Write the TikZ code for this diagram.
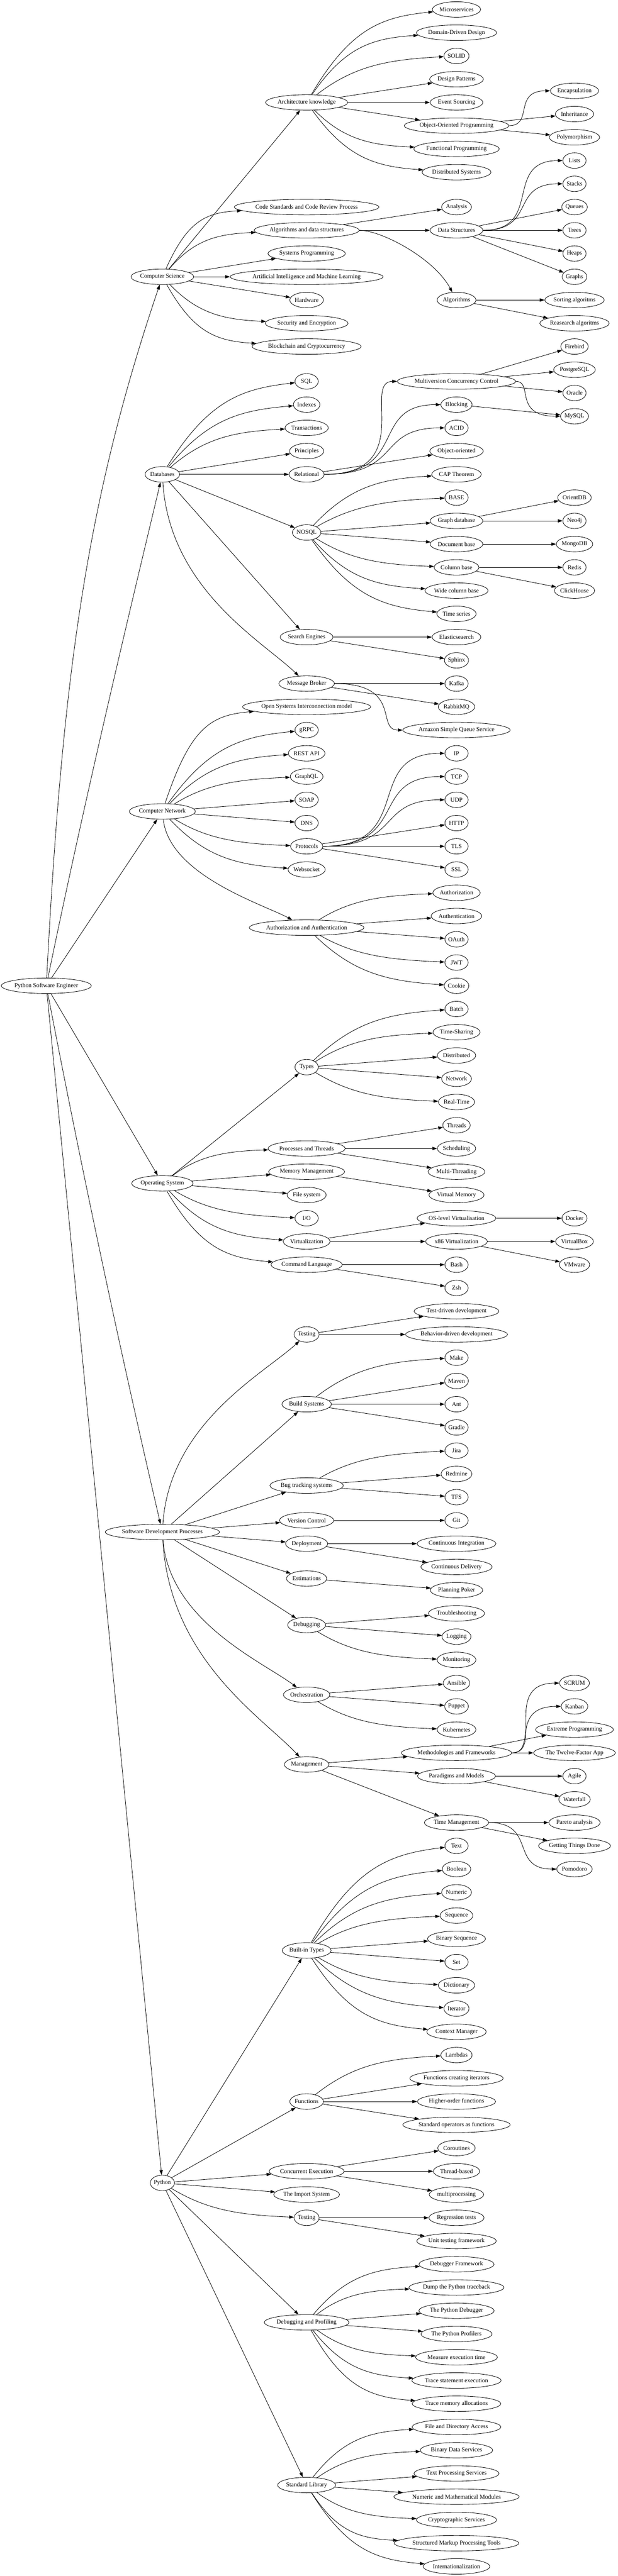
\documentclass[tikz,border=0pt]{standalone}
\usepackage{fontspec}
\setmainfont{Liberation Serif}
\usetikzlibrary{shapes.geometric,arrows.meta}
\newlength\gvtw
\newdimen\gvXa \newdimen\gvYa \newdimen\gvXb \newdimen\gvYb \newdimen\gvXc \newdimen\gvYc
\newcommand\gvfont{\fontsize{14pt}{16.8pt}\selectfont}
\tikzset{
  gvnode/.style={ellipse, draw, line width=1pt, minimum height=36pt, inner xsep=0pt, inner ysep=1pt, font=\gvfont},
  gvedge/.style={line width=1pt, -{Triangle[length=11pt,width=7.5pt]}},
}
% node: name, x, row, text
\newcommand\gvn[4]{%
  \settowidth\gvtw{\gvfont #4}%
  \pgfmathsetlengthmacro\gvmw{max(54pt,1.283*\gvtw+26pt)}%
  \node[gvnode,minimum width=\gvmw] (#1) at (#2,{22+54*#3}) {#4};}
% edge: type, parent, child
\newcommand\gve[3]{%
  \pgfextractx{\gvXa}{\pgfpointanchor{#2}{center}}%
  \pgfextracty{\gvYa}{\pgfpointanchor{#2}{center}}%
  \pgfextractx{\gvXb}{\pgfpointanchor{#3}{west}}%
  \pgfextracty{\gvYb}{\pgfpointanchor{#3}{west}}%
  \pgfextractx{\gvXc}{\pgfpointanchor{#3}{center}}%
  \pgfextracty{\gvYc}{\pgfpointanchor{#3}{center}}%
  \csname gvE#1\endcsname{#2}{#3}}
\newcommand\gvEs[2]{\draw[gvedge] (#1) -- (#2);}
\newcommand\gvEc[2]{%
  \pgfmathsetlengthmacro\gvA{\gvXa+0.35*(\gvXb-\gvXa)}%
  \pgfmathsetlengthmacro\gvB{\gvYa+0.8*(\gvYb-\gvYa)}%
  \pgfmathsetlengthmacro\gvC{\gvXb-0.4*(\gvXb-\gvXa)}%
  \pgfmathsetlengthmacro\gvD{\gvYb-0.08*(\gvYb-\gvYa)}%
  \draw[gvedge] (#1) .. controls (\gvA,\gvB) and (\gvC,\gvD) .. (#2);}
\newcommand\gvEh[2]{%
  \pgfmathsetlengthmacro\gvA{0.5*(\gvXa+\gvXc)+18pt+0.3*abs(\gvYc-\gvYa)}%
  \pgfmathsetlengthmacro\gvC{0.5*(\gvXa+\gvXc)+18pt-0.3*abs(\gvYc-\gvYa)}%
  \draw[gvedge] (#1) .. controls (\gvA,\the\gvYa) and (\gvC,\the\gvYc) .. (#2);}
\newcommand\gvEr[2]{%
  \pgfmathsetlengthmacro\gvA{\gvXa+0.5*(\gvXc-\gvXa)}%
  \pgfmathsetlengthmacro\gvC{\gvXc-0.15*(\gvXc-\gvXa)}%
  \pgfmathsetlengthmacro\gvD{\gvYc-0.6*(\gvYc-\gvYa)}%
  \draw[gvedge] (#1) .. controls (\gvA,\the\gvYa) and (\gvC,\gvD) .. (#2);}
\newcommand\gvEd[2]{%
  \pgfmathsetlengthmacro\gvA{\gvXa+0.05*(\gvXc-\gvXa)}%
  \pgfmathsetlengthmacro\gvB{\gvYa+0.55*(\gvYc-\gvYa)}%
  \pgfmathsetlengthmacro\gvC{\gvXc-0.3*(\gvXc-\gvXa)}%
  \pgfmathsetlengthmacro\gvD{\gvYc-0.2*(\gvYc-\gvYa)}%
  \draw[gvedge] (#1) .. controls (\gvA,\gvB) and (\gvC,\gvD) .. (#2);}
\begin{document}
\begin{tikzpicture}[x=1pt,y=-1pt]
\path[use as bounding box, fill=white] (0,0) rectangle (1434.75,5984.25);
% rank 0
\gvn{root}{107.5}{42}{Python Software Engineer}
% rank 1
\gvn{cs}{377}{11.5}{Computer Science}
\gvn{db}{377}{20}{Databases}
\gvn{cn}{377}{34.5}{Computer Network}
\gvn{os}{377}{50.5}{Operating System}
\gvn{sdp}{377}{65.5}{Software Development Processes}
\gvn{py}{377}{93.5}{Python}
% rank 2
\gvn{arch}{712}{4}{Architecture knowledge}
\gvn{cstd}{712}{8.5}{Code Standards and Code Review Process}
\gvn{ads}{712}{9.5}{Algorithms and data structures}
\gvn{sysp}{712}{10.5}{Systems Programming}
\gvn{aiml}{712}{11.5}{Artificial Intelligence and Machine Learning}
\gvn{hw}{712}{12.5}{Hardware}
\gvn{sec}{712}{13.5}{Security and Encryption}
\gvn{bc}{712}{14.5}{Blockchain and Cryptocurrency}
\gvn{sql}{712}{16}{SQL}
\gvn{idx}{712}{17}{Indexes}
\gvn{trx}{712}{18}{Transactions}
\gvn{prin}{712}{19}{Principles}
\gvn{rel}{712}{20}{Relational}
\gvn{nosql}{712}{22.5}{NOSQL}
\gvn{se}{712}{27}{Search Engines}
\gvn{mb}{712}{29}{Message Broker}
\gvn{osi}{712}{30}{Open Systems Interconnection model}
\gvn{grpc}{712}{31}{gRPC}
\gvn{rest}{712}{32}{REST API}
\gvn{gql}{712}{33}{GraphQL}
\gvn{soap}{712}{34}{SOAP}
\gvn{dns}{712}{35}{DNS}
\gvn{proto}{712}{36}{Protocols}
\gvn{ws}{712}{37}{Websocket}
\gvn{aa}{712}{39.5}{Authorization and Authentication}
\gvn{types}{712}{45.5}{Types}
\gvn{pthr}{712}{49}{Processes and Threads}
\gvn{mm}{712}{50}{Memory Management}
\gvn{fs}{712}{51}{File system}
\gvn{io}{712}{52}{I/O}
\gvn{virt}{712}{53}{Virtualization}
\gvn{cl}{712}{54}{Command Language}
\gvn{test}{712}{57}{Testing}
\gvn{build}{712}{60}{Build Systems}
\gvn{bug}{712}{63.5}{Bug tracking systems}
\gvn{vc}{712}{65}{Version Control}
\gvn{dep}{712}{66}{Deployment}
\gvn{est}{712}{67.5}{Estimations}
\gvn{dbg}{712}{69.5}{Debugging}
\gvn{orch}{712}{72.5}{Orchestration}
\gvn{mgmt}{712}{75.5}{Management}
\gvn{bit}{712}{83.5}{Built-in Types}
\gvn{func}{712}{90}{Functions}
\gvn{ce}{712}{93}{Concurrent Execution}
\gvn{imp}{712}{94}{The Import System}
\gvn{ptest}{712}{95}{Testing}
\gvn{dp}{712}{99.5}{Debugging and Profiling}
\gvn{stdlib}{712}{106.5}{Standard Library}
% rank 3
\gvn{micro}{1060}{0}{Microservices}
\gvn{ddd}{1060}{1}{Domain-Driven Design}
\gvn{solid}{1060}{2}{SOLID}
\gvn{dpat}{1060}{3}{Design Patterns}
\gvn{evs}{1060}{4}{Event Sourcing}
\gvn{oop}{1060}{5}{Object-Oriented Programming}
\gvn{fp}{1060}{6}{Functional Programming}
\gvn{dsys}{1060}{7}{Distributed Systems}
\gvn{ana}{1060}{8.5}{Analysis}
\gvn{dstr}{1060}{9.5}{Data Structures}
\gvn{alg}{1060}{12.5}{Algorithms}
\gvn{mvcc}{1060}{16}{Multiversion Concurrency Control}
\gvn{block}{1060}{17}{Blocking}
\gvn{acid}{1060}{18}{ACID}
\gvn{oodb}{1060}{19}{Object-oriented}
\gvn{cap}{1060}{20}{CAP Theorem}
\gvn{base}{1060}{21}{BASE}
\gvn{gdb}{1060}{22}{Graph database}
\gvn{docb}{1060}{23}{Document base}
\gvn{colb}{1060}{24}{Column base}
\gvn{wcol}{1060}{25}{Wide column base}
\gvn{tser}{1060}{26}{Time series}
\gvn{elastic}{1060}{27}{Elasticseaerch}
\gvn{sphinx}{1060}{28}{Sphinx}
\gvn{kafka}{1060}{29}{Kafka}
\gvn{rabbit}{1060}{30}{RabbitMQ}
\gvn{sqs}{1060}{31}{Amazon Simple Queue Service}
\gvn{ip}{1060}{32}{IP}
\gvn{tcp}{1060}{33}{TCP}
\gvn{udp}{1060}{34}{UDP}
\gvn{http}{1060}{35}{HTTP}
\gvn{tls}{1060}{36}{TLS}
\gvn{ssl}{1060}{37}{SSL}
\gvn{authz}{1060}{38}{Authorization}
\gvn{authn}{1060}{39}{Authentication}
\gvn{oauth}{1060}{40}{OAuth}
\gvn{jwt}{1060}{41}{JWT}
\gvn{cookie}{1060}{42}{Cookie}
\gvn{batch}{1060}{43}{Batch}
\gvn{tsh}{1060}{44}{Time-Sharing}
\gvn{distr}{1060}{45}{Distributed}
\gvn{netw}{1060}{46}{Network}
\gvn{rt}{1060}{47}{Real-Time}
\gvn{thr}{1060}{48}{Threads}
\gvn{sched}{1060}{49}{Scheduling}
\gvn{mthr}{1060}{50}{Multi-Threading}
\gvn{vmem}{1060}{51}{Virtual Memory}
\gvn{oslv}{1060}{52}{OS-level Virtualisation}
\gvn{xvirt}{1060}{53}{x86 Virtualization}
\gvn{bash}{1060}{54}{Bash}
\gvn{zsh}{1060}{55}{Zsh}
\gvn{tdd}{1060}{56}{Test-driven development}
\gvn{bdd}{1060}{57}{Behavior-driven development}
\gvn{make}{1060}{58}{Make}
\gvn{maven}{1060}{59}{Maven}
\gvn{ant}{1060}{60}{Ant}
\gvn{gradle}{1060}{61}{Gradle}
\gvn{jira}{1060}{62}{Jira}
\gvn{redmine}{1060}{63}{Redmine}
\gvn{tfs}{1060}{64}{TFS}
\gvn{git}{1060}{65}{Git}
\gvn{ci}{1060}{66}{Continuous Integration}
\gvn{cdel}{1060}{67}{Continuous Delivery}
\gvn{poker}{1060}{68}{Planning Poker}
\gvn{trbl}{1060}{69}{Troubleshooting}
\gvn{logg}{1060}{70}{Logging}
\gvn{mon}{1060}{71}{Monitoring}
\gvn{ansible}{1060}{72}{Ansible}
\gvn{puppet}{1060}{73}{Puppet}
\gvn{kube}{1060}{74}{Kubernetes}
\gvn{mf}{1060}{75}{Methodologies and Frameworks}
\gvn{pm}{1060}{76}{Paradigms and Models}
\gvn{tm}{1060}{78}{Time Management}
\gvn{ttext}{1060}{79}{Text}
\gvn{tbool}{1060}{80}{Boolean}
\gvn{tnum}{1060}{81}{Numeric}
\gvn{tseq}{1060}{82}{Sequence}
\gvn{tbseq}{1060}{83}{Binary Sequence}
\gvn{tset}{1060}{84}{Set}
\gvn{tdict}{1060}{85}{Dictionary}
\gvn{titer}{1060}{86}{Iterator}
\gvn{tctx}{1060}{87}{Context Manager}
\gvn{lam}{1060}{88}{Lambdas}
\gvn{fci}{1060}{89}{Functions creating iterators}
\gvn{hof}{1060}{90}{Higher-order functions}
\gvn{sopf}{1060}{91}{Standard operators as functions}
\gvn{cor}{1060}{92}{Coroutines}
\gvn{thb}{1060}{93}{Thread-based}
\gvn{mproc}{1060}{94}{multiprocessing}
\gvn{reg}{1060}{95}{Regression tests}
\gvn{unit}{1060}{96}{Unit testing framework}
\gvn{dbgfw}{1060}{97}{Debugger Framework}
\gvn{dump}{1060}{98}{Dump the Python traceback}
\gvn{pdb}{1060}{99}{The Python Debugger}
\gvn{prof}{1060}{100}{The Python Profilers}
\gvn{meas}{1060}{101}{Measure execution time}
\gvn{trst}{1060}{102}{Trace statement execution}
\gvn{trmem}{1060}{103}{Trace memory allocations}
\gvn{fda}{1060}{104}{File and Directory Access}
\gvn{bds}{1060}{105}{Binary Data Services}
\gvn{tps}{1060}{106}{Text Processing Services}
\gvn{nmm}{1060}{107}{Numeric and Mathematical Modules}
\gvn{crypt}{1060}{108}{Cryptographic Services}
\gvn{smpt}{1060}{109}{Structured Markup Processing Tools}
\gvn{ilen}{1060}{110}{Internationalization}
% rank 4
\gvn{encap}{1334}{3.5}{Encapsulation}
\gvn{inher}{1334}{4.5}{Inheritance}
\gvn{poly}{1334}{5.5}{Polymorphism}
\gvn{lists}{1334}{6.5}{Lists}
\gvn{stacks}{1334}{7.5}{Stacks}
\gvn{queues}{1334}{8.5}{Queues}
\gvn{trees}{1334}{9.5}{Trees}
\gvn{heaps}{1334}{10.5}{Heaps}
\gvn{graphs}{1334}{11.5}{Graphs}
\gvn{sorta}{1334}{12.5}{Sorting algoritms}
\gvn{researcha}{1334}{13.5}{Reasearch algoritms}
\gvn{firebird}{1334}{14.5}{Firebird}
\gvn{pg}{1334}{15.5}{PostgreSQL}
\gvn{oracle}{1334}{16.5}{Oracle}
\gvn{mysql}{1334}{17.5}{MySQL}
\gvn{orient}{1334}{21}{OrientDB}
\gvn{neo}{1334}{22}{Neo4j}
\gvn{mongo}{1334}{23}{MongoDB}
\gvn{redis}{1334}{24}{Redis}
\gvn{click}{1334}{25}{ClickHouse}
\gvn{docker}{1334}{52}{Docker}
\gvn{vbox}{1334}{53}{VirtualBox}
\gvn{vmware}{1334}{54}{VMware}
\gvn{scrum}{1334}{72}{SCRUM}
\gvn{kanban}{1334}{73}{Kanban}
\gvn{xp}{1334}{74}{Extreme Programming}
\gvn{twelve}{1334}{75}{The Twelve-Factor App}
\gvn{agile}{1334}{76}{Agile}
\gvn{waterfall}{1334}{77}{Waterfall}
\gvn{pareto}{1334}{78}{Pareto analysis}
\gvn{gtd}{1334}{79}{Getting Things Done}
\gvn{pomo}{1334}{80}{Pomodoro}
% root edges
\draw[gvedge] (root) .. controls (145,1568) and (201,1163) .. (cs);
\draw[gvedge] (root) .. controls (191,1885) and (281,1503) .. (db);
\draw[gvedge] (root) -- (cn);
\draw[gvedge] (root) -- (os);
\draw[gvedge] (root) .. controls (190,2718) and (277,3129) .. (sdp);
\draw[gvedge] (root) -- (py);
% Computer Science
\gve{s}{cs}{arch}\gve{c}{cs}{cstd}\gve{c}{cs}{ads}\gve{s}{cs}{sysp}
\gve{s}{cs}{aiml}\gve{s}{cs}{hw}\gve{c}{cs}{sec}\gve{c}{cs}{bc}
\gve{c}{arch}{micro}\gve{c}{arch}{ddd}\gve{c}{arch}{solid}\gve{s}{arch}{dpat}
\gve{s}{arch}{evs}\gve{s}{arch}{oop}\gve{c}{arch}{fp}\gve{c}{arch}{dsys}
\gve{h}{oop}{encap}\gve{s}{oop}{inher}\gve{s}{oop}{poly}
\gve{s}{ads}{ana}\gve{s}{ads}{dstr}\gve{r}{ads}{alg}
\gve{h}{dstr}{lists}\gve{h}{dstr}{stacks}\gve{s}{dstr}{queues}
\gve{s}{dstr}{trees}\gve{s}{dstr}{heaps}\gve{s}{dstr}{graphs}
\gve{s}{alg}{sorta}\gve{s}{alg}{researcha}
% Databases
\gve{c}{db}{sql}\gve{c}{db}{idx}\gve{c}{db}{trx}\gve{s}{db}{prin}
\gve{s}{db}{rel}\gve{s}{db}{nosql}\gve{s}{db}{se}\gve{d}{db}{mb}
\gve{h}{rel}{mvcc}\gve{h}{rel}{block}\gve{h}{rel}{acid}\gve{s}{rel}{oodb}
\gve{s}{mvcc}{firebird}\gve{s}{mvcc}{pg}\gve{s}{mvcc}{oracle}\gve{h}{mvcc}{mysql}
\gve{s}{block}{mysql}
\gve{c}{nosql}{cap}\gve{c}{nosql}{base}\gve{s}{nosql}{gdb}\gve{s}{nosql}{docb}
\gve{c}{nosql}{colb}\gve{c}{nosql}{wcol}\gve{c}{nosql}{tser}
\gve{s}{gdb}{orient}\gve{s}{gdb}{neo}\gve{s}{docb}{mongo}
\gve{s}{colb}{redis}\gve{s}{colb}{click}
\gve{s}{se}{elastic}\gve{s}{se}{sphinx}
\gve{s}{mb}{kafka}\gve{s}{mb}{rabbit}\gve{h}{mb}{sqs}
% Computer Network
\gve{c}{cn}{osi}\gve{c}{cn}{grpc}\gve{c}{cn}{rest}\gve{c}{cn}{gql}
\gve{s}{cn}{soap}\gve{s}{cn}{dns}\gve{c}{cn}{proto}\gve{c}{cn}{ws}\gve{d}{cn}{aa}
\gve{h}{proto}{ip}\gve{h}{proto}{tcp}\gve{h}{proto}{udp}
\gve{s}{proto}{http}\gve{s}{proto}{tls}\gve{s}{proto}{ssl}
\gve{c}{aa}{authz}\gve{s}{aa}{authn}\gve{s}{aa}{oauth}\gve{c}{aa}{jwt}\gve{c}{aa}{cookie}
% Operating System
\gve{s}{os}{types}\gve{c}{os}{pthr}\gve{s}{os}{mm}\gve{s}{os}{fs}
\gve{c}{os}{io}\gve{c}{os}{virt}\gve{c}{os}{cl}
\gve{c}{types}{batch}\gve{c}{types}{tsh}\gve{s}{types}{distr}\gve{s}{types}{netw}\gve{c}{types}{rt}
\gve{s}{pthr}{thr}\gve{s}{pthr}{sched}\gve{s}{pthr}{mthr}
\gve{s}{mm}{vmem}
\gve{s}{virt}{oslv}\gve{s}{virt}{xvirt}
\gve{s}{oslv}{docker}\gve{s}{xvirt}{vbox}\gve{s}{xvirt}{vmware}
\gve{s}{cl}{bash}\gve{s}{cl}{zsh}
% Software Development Processes
\gve{d}{sdp}{test}\gve{s}{sdp}{build}\gve{s}{sdp}{bug}\gve{s}{sdp}{vc}
\gve{s}{sdp}{dep}\gve{s}{sdp}{est}\gve{s}{sdp}{dbg}\gve{d}{sdp}{orch}\gve{d}{sdp}{mgmt}
\gve{s}{test}{tdd}\gve{s}{test}{bdd}
\gve{c}{build}{make}\gve{s}{build}{maven}\gve{s}{build}{ant}\gve{s}{build}{gradle}
\gve{c}{bug}{jira}\gve{s}{bug}{redmine}\gve{s}{bug}{tfs}
\gve{s}{vc}{git}
\gve{s}{dep}{ci}\gve{s}{dep}{cdel}
\gve{s}{est}{poker}
\gve{s}{dbg}{trbl}\gve{s}{dbg}{logg}\gve{c}{dbg}{mon}
\gve{s}{orch}{ansible}\gve{s}{orch}{puppet}\gve{c}{orch}{kube}
\gve{s}{mgmt}{mf}\gve{s}{mgmt}{pm}\gve{s}{mgmt}{tm}
\gve{h}{mf}{scrum}\gve{h}{mf}{kanban}\gve{s}{mf}{xp}\gve{s}{mf}{twelve}
\gve{s}{pm}{agile}\gve{s}{pm}{waterfall}
\gve{s}{tm}{pareto}\gve{s}{tm}{gtd}\gve{h}{tm}{pomo}
% Python
\gve{s}{py}{bit}\gve{s}{py}{func}\gve{s}{py}{ce}\gve{s}{py}{imp}
\gve{c}{py}{ptest}\gve{s}{py}{dp}\gve{s}{py}{stdlib}
\gve{c}{bit}{ttext}\gve{c}{bit}{tbool}\gve{c}{bit}{tnum}\gve{c}{bit}{tseq}
\gve{s}{bit}{tbseq}\gve{s}{bit}{tset}\gve{c}{bit}{tdict}\gve{c}{bit}{titer}\gve{c}{bit}{tctx}
\gve{c}{func}{lam}\gve{s}{func}{fci}\gve{s}{func}{hof}\gve{s}{func}{sopf}
\gve{s}{ce}{cor}\gve{s}{ce}{thb}\gve{s}{ce}{mproc}
\gve{s}{ptest}{reg}\gve{s}{ptest}{unit}
\gve{c}{dp}{dbgfw}\gve{c}{dp}{dump}\gve{s}{dp}{pdb}\gve{s}{dp}{prof}
\gve{c}{dp}{meas}\gve{c}{dp}{trst}\gve{c}{dp}{trmem}
\gve{c}{stdlib}{fda}\gve{c}{stdlib}{bds}\gve{s}{stdlib}{tps}\gve{s}{stdlib}{nmm}
\gve{c}{stdlib}{crypt}\gve{c}{stdlib}{smpt}\gve{c}{stdlib}{ilen}
\end{tikzpicture}
\end{document}
